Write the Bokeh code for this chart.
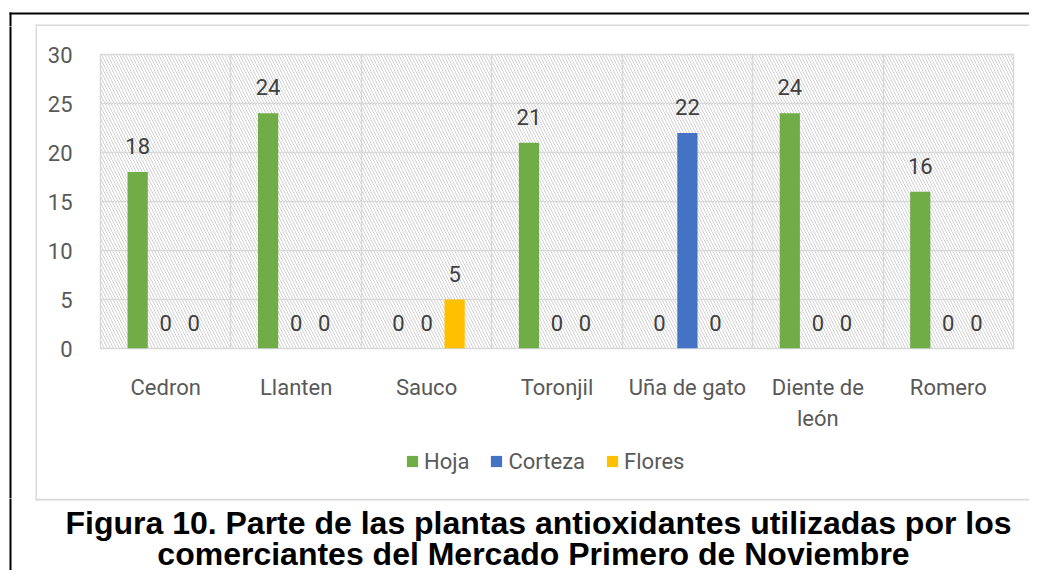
from bokeh.plotting import figure
from bokeh.layouts import column, row
from bokeh.models import (FactorRange, Range1d, FixedTicker, BoxAnnotation, Label,
                          Legend, LegendItem, ColumnDataSource)
from bokeh.transform import dodge
from bokeh.core.properties import value
from bokeh.embed import file_html
from bokeh.resources import INLINE

categories = ["Cedron", "Llanten", "Sauco", "Toronjil", "Uña de gato", "Diente de\nleón", "Romero"]
series_names = ["Hoja", "Corteza", "Flores"]
hoja = [18, 24, 0, 21, 0, 24, 16]
corteza = [0, 0, 0, 0, 22, 0, 0]
flores = [0, 0, 5, 0, 0, 0, 0]
colors = ["#70ad47", "#4472c4", "#ffc000"]
y_ticks = [0, 5, 10, 15, 20, 25, 30]
title_lines = ["Figura 10. Parte de las plantas antioxidantes utilizadas por los",
               "comerciantes del Mercado Primero de Noviembre"]

FONT = "Roboto"
GRAY = "#d9d9d9"


def bare(w, h):
    f = figure(width=w, height=h, output_backend="svg", toolbar_location=None,
               x_axis_type=None, y_axis_type=None, min_border=0,
               x_range=(0, 1), y_range=(0, 1))
    f.background_fill_color = "white"
    f.border_fill_color = "white"
    f.outline_line_color = None
    f.grid.visible = False
    return f


def rule(f, x0, x1, y0, y1, color):
    """Frame line: pixel box inside a bare panel (y measured from the panel's top)."""
    h = f.height
    f.add_layout(BoxAnnotation(left=x0, right=x1, top=h - y0, bottom=h - y1,
                               left_units="screen", right_units="screen",
                               top_units="screen", bottom_units="screen",
                               fill_color=color, fill_alpha=1, line_color=None))


# ---------------- main chart ----------------
p = figure(x_range=FactorRange(*categories), y_range=Range1d(0, 30),
           width=992, height=414, output_backend="svg", toolbar_location=None,
           min_border_left=63, min_border_right=16, min_border_top=28, min_border_bottom=92)
p.background_fill_color = "white"
p.border_fill_color = "white"
p.outline_line_color = GRAY
p.outline_line_width = 1.5

bg = BoxAnnotation(fill_alpha=0, line_alpha=0, hatch_pattern="\\", hatch_color="#d2d2d2",
                   hatch_scale=6, hatch_weight=1, level="image")
p.add_layout(bg)

p.yaxis.ticker = FixedTicker(ticks=y_ticks)
for ax in (p.xaxis[0], p.yaxis[0]):
    ax.axis_line_color = None
    ax.major_tick_line_color = None
    ax.minor_tick_line_color = None
    ax.major_label_text_font = FONT
    ax.major_label_text_font_size = "22px"
    ax.major_label_text_color = "#595959"
p.yaxis.major_label_standoff = 22
p.xaxis.major_label_standoff = 20
p.xaxis.major_label_text_line_height = 1.25

p.ygrid.grid_line_color = GRAY
p.ygrid.grid_line_width = 1.5
p.xgrid.ticker = FixedTicker(ticks=[1, 2, 3, 4, 5, 6])
p.xgrid.grid_line_color = GRAY
p.xgrid.grid_line_width = 1.5

src = ColumnDataSource(dict(
    cat=categories, Hoja=hoja, Corteza=corteza, Flores=flores,
    Hoja_t=[str(v) for v in hoja], Corteza_t=[str(v) for v in corteza],
    Flores_t=[str(v) for v in flores]))

offsets = [-0.215, 0.0, 0.215]
for name, col, off in zip(series_names, colors, offsets):
    p.vbar(x=dodge("cat", off, range=p.x_range), top=name, width=0.155,
           source=src, fill_color=col, line_color=None)
    p.text(x=dodge("cat", off, range=p.x_range), y=name, text=name + "_t", source=src,
           text_align="center", text_baseline="middle", y_offset=-26,
           text_font=value(FONT), text_font_size="22px", text_color="#404040")

# ---------------- legend strip ----------------
lf = bare(992, 58)
leg_renderers = [lf.vbar(x=[-5], top=[0], bottom=[0], width=0.1, fill_color=c, line_color=None)
                 for c in colors]
legend = Legend(items=[LegendItem(label=n, renderers=[r]) for n, r in zip(series_names, leg_renderers)],
                orientation="horizontal", location=(305, 24),
                glyph_width=14, glyph_height=14, label_height=26, spacing=20, label_standoff=5,
                padding=0, margin=0, border_line_alpha=0, background_fill_alpha=0,
                label_text_font=FONT, label_text_font_size="22px", label_text_color="#595959")
lf.add_layout(legend)

# ---------------- frame panels ----------------
top = bare(1029, 26)
rule(top, 9, 1040, 12, 14, "black")      # outer frame, top edge
rule(top, 9, 11, 12, 30, "black")        # outer frame, left edge
rule(top, 35, 1040, 24, 26, GRAY)        # chart box, top edge
rule(top, 35, 37, 24, 30, GRAY)

left = bare(37, 472)
rule(left, 9, 11, -4, 476, "black")
rule(left, 35, 37, -4, 476, GRAY)

cap = bare(1029, 72)
rule(cap, 9, 11, -4, 80, "black")
rule(cap, 35, 37, -4, 2, GRAY)
rule(cap, 35, 1040, 0, 2, GRAY)          # chart box, bottom edge
for txt, xx, yy in zip(title_lines, [538, 533], [48, 17]):
    cap.add_layout(Label(x=xx, y=yy, x_units="screen", y_units="screen", text=txt,
                         text_align="center", text_baseline="middle",
                         text_font="Liberation Sans", text_font_style="bold",
                         text_font_size="32px", text_color="black"))

layout = column(top, row(left, column(p, lf)), cap)

open("out.html", "w").write(file_html(layout, INLINE))
